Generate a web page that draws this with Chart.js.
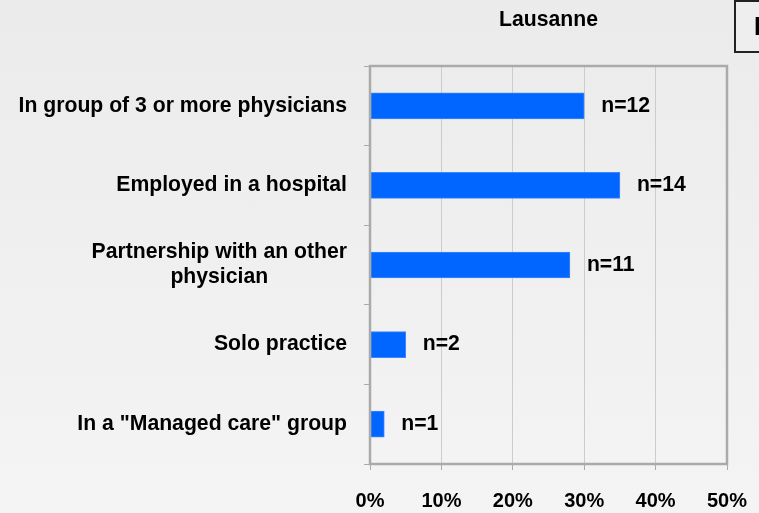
<!DOCTYPE html>
<html>
<head>
<meta charset="utf-8">
<script src="https://cdn.jsdelivr.net/npm/chart.js@4"></script>
<style>
  html, body { margin: 0; padding: 0; }
  body { width: 759px; height: 513px; background: linear-gradient(#ebebeb, #f4f4f4); overflow: hidden; }
  canvas { display: block; }
</style>
</head>
<body>
<canvas id="barChart" width="759" height="513"></canvas>
<script>
// Lausanne - practice type
const categories = [
    'In group of 3 or more physicians',
    'Employed in a hospital',
    ['Partnership with an other', 'physician'],
    'Solo practice',
    'In a "Managed care" group'
];
const shares = [30, 35, 28, 5, 2];
const counts = [12, 14, 11, 2, 1];
const xTicks = [0, 10, 20, 30, 40, 50];
const chartTitle = 'Lausanne';

const boldFont = size => 'bold ' + size + 'px "Liberation Sans", Arial, sans-serif';

// category labels, n= labels, title, frame and side box
const decorations = {
    id: 'decorations',
    afterDraw(chart) {
        const ctx = chart.ctx;
        const area = chart.chartArea;
        const yScale = chart.scales.y;
        const meta = chart.getDatasetMeta(0);
        ctx.save();

        // frame around the plot
        ctx.strokeStyle = '#aaaaaa';
        ctx.lineWidth = 2.5;
        ctx.strokeRect(area.left, area.top, area.right - area.left, area.bottom - area.top);

        ctx.fillStyle = '#000';
        ctx.textBaseline = 'middle';

        // category labels (multi-line ones centred on each other)
        ctx.font = boldFont(21.2);
        const lineH = 25;
        categories.forEach((label, i) => {
            const lines = Array.isArray(label) ? label : [label];
            const yc = yScale.getPixelForTick(i);
            const right = area.left - 23;
            const maxW = Math.max(...lines.map(l => ctx.measureText(l).width));
            ctx.textAlign = 'center';
            lines.forEach((l, k) => {
                const y = yc + (k - (lines.length - 1) / 2) * lineH;
                ctx.fillText(l, right - maxW / 2, y);
            });
        });

        // n= labels
        ctx.textAlign = 'left';
        meta.data.forEach((bar, i) => {
            ctx.fillText('n=' + counts[i], bar.x + 17, bar.y);
        });

        // title
        ctx.textAlign = 'center';
        ctx.fillText(chartTitle, (area.left + area.right) / 2, 20);

        // cut-off box on the right
        ctx.fillStyle = '#eeeeee';
        ctx.fillRect(735, 1, 30, 51);
        ctx.strokeStyle = '#222';
        ctx.lineWidth = 2;
        ctx.strokeRect(735, 1, 40, 51);
        ctx.fillStyle = '#000';
        ctx.font = boldFont(25);
        ctx.textAlign = 'left';
        ctx.textBaseline = 'alphabetic';
        ctx.fillText('F', 754, 35);
        ctx.restore();
    }
};

new Chart(document.getElementById('barChart').getContext('2d'), {
    type: 'bar',
    data: {
        labels: categories,
        datasets: [{
            data: shares,
            backgroundColor: '#0066ff',
            borderColor: '#3d86ff',
            borderWidth: 1,
            borderSkipped: false,
            barThickness: 26
        }]
    },
    options: {
        indexAxis: 'y',
        responsive: false,
        animation: false,
        layout: { padding: { left: 0, right: 32, top: 66, bottom: 0 } },
        plugins: {
            legend: { display: false },
            tooltip: { enabled: false },
            title: { display: false }
        },
        scales: {
            x: {
                min: 0,
                max: 50,
                afterBuildTicks: scale => { scale.ticks = xTicks.map(v => ({ value: v })); },
                ticks: {
                    color: '#000',
                    font: { family: '"Liberation Sans", Arial, sans-serif', size: 20, weight: 'bold' },
                    padding: 19,
                    callback: v => v + '%'
                },
                grid: {
                    color: '#cccccc',
                    lineWidth: 1,
                    borderDash: [2, 2],
                    tickBorderDash: [],
                    tickColor: '#aaaaaa',
                    tickLength: 6
                },
                border: { display: false },
                afterFit: scale => {
                    scale.height = 49;
                    scale.paddingLeft = 0;
                    scale.paddingRight = 0;
                }
            },
            y: {
                ticks: { display: false },
                grid: {
                    drawOnChartArea: false,
                    color: '#aaaaaa',
                    tickLength: 6,
                    offset: true
                },
                border: { display: false },
                afterFit: scale => { scale.width = 370; }
            }
        }
    },
    plugins: [decorations]
});
</script>
</body>
</html>
